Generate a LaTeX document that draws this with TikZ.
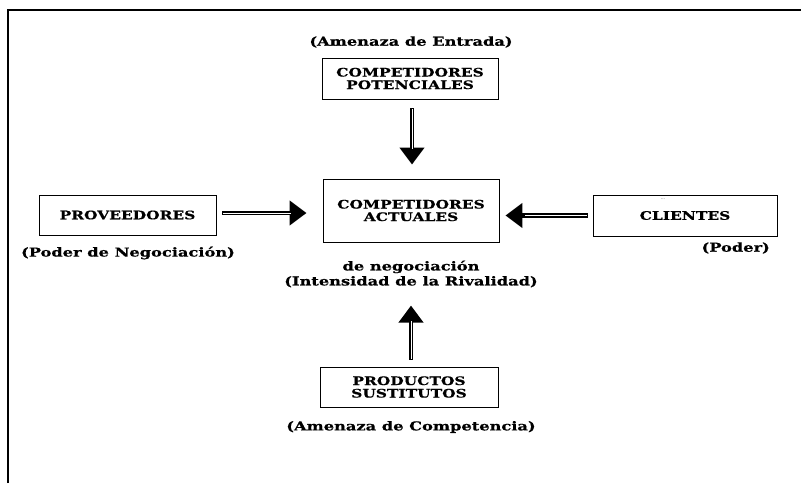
\documentclass[tikz,border=0pt]{standalone}
\usepackage{fontspec}
\setmainfont{DejaVu Serif}[BoldFont={DejaVu Serif Bold},BoldFeatures={FakeStretch=1.32,FakeBold=0.6}]
\usetikzlibrary{arrows.meta}
\tikzset{
  box/.style={draw, line width=0.9pt, minimum width=#1, inner sep=0pt, font=\bfseries\fontsize{11.7}{12.5}\selectfont, align=center},
  lbl/.style={font=\bfseries\fontsize{12.3}{15}\selectfont, inner sep=0pt, align=center},
  bigarrow/.style={line width=4.5pt, -{Triangle[length=17pt,width=24pt]}},
  core/.style={white, line width=0.9pt},
}
\begin{document}
\begin{tikzpicture}[x=1pt,y=-1pt]
\useasboundingbox (0,0) rectangle (801,483);
% frame
\draw[line width=2pt] (8,483) -- (8,10) -- (801,10);
% boxes
\node[box=176pt, minimum height=41pt] (pot) at (410,78.5) {COMPETIDORES\\POTENCIALES};
\node[box=176pt, minimum height=63pt] (act) at (411,210.5) {COMPETIDORES\\ACTUALES};
\node[box=177pt, minimum height=40pt] (prov) at (127.5,215) {PROVEEDORES};
\node[box=184pt, minimum height=41pt] (cli) at (685,215.5) {CLIENTES};
\node[box=178pt, minimum height=40pt] (sus) at (409,387) {PRODUCTOS\\SUSTITUTOS};
% labels
\node[lbl] (ent) at (411,42) {(Amenaza de Entrada)};
\node[lbl] (neg) at (128,253) {(Poder de Negociación)};
\node[lbl, anchor=east] (pod) at (770,248) {(Poder)};
\node[lbl] (riv) at (411,274) {de negociación\\(Intensidad de la Rivalidad)};
\node[lbl] (comp) at (411,427) {(Amenaza de Competencia)};
\node[font=\fontsize{4}{4}\selectfont, inner sep=0pt] (dots) at (663,199) {...};
% arrows
\coordinate (pa) at ([xshift=2pt]pot.south);
\coordinate (aa) at ([xshift=1pt]act.north);
\draw[bigarrow, shorten <=9pt, shorten >=14pt] (pa) -- (pa |- aa);
\draw[core] ([yshift=-10pt]pa) -- ([yshift=-50pt]pa);
\coordinate (pe) at ([yshift=2pt]prov.east);
\draw[bigarrow, shorten <=6pt, shorten >=16pt] (pe) -- (pe -| act.west);
\draw[core] ([xshift=7pt]pe) -- ([xshift=75pt]pe);
\draw[bigarrow, shorten <=5pt, shorten >=6pt] (cli.west) -- (cli.west -| act.east);
\draw[core] ([xshift=-6pt]cli.west) -- ([xshift=-68pt]cli.west);
\coordinate (sn) at ([xshift=2pt]sus.north);
\draw[bigarrow, shorten <=7pt, shorten >=18pt] (sn) -- (sn |- riv.south);
\draw[core] ([yshift=8pt]sn) -- ([yshift=46pt]sn);
\end{tikzpicture}
\end{document}
